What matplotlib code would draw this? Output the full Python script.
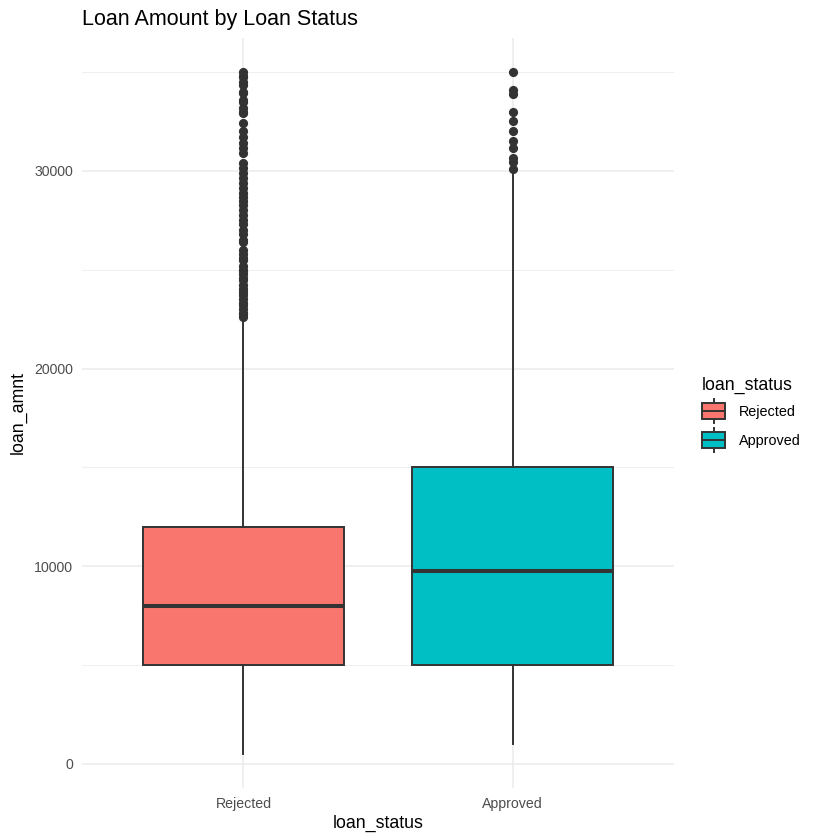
import matplotlib
matplotlib.use("Agg")
import matplotlib.pyplot as plt
from matplotlib.patches import Patch, Rectangle
from matplotlib.lines import Line2D
from matplotlib.legend_handler import HandlerBase

plt.rcParams['font.family'] = ['Liberation Sans', 'DejaVu Sans']

# ---- data ----
categories = ["Rejected", "Approved"]
colors = ["#F8766D", "#00BFC4"]
q1 = [5000, 5000]
median = [8000, 9750]
q3 = [12000, 15000]
whisker_low = [500, 1000]
whisker_high = [22500, 30000]
fliers_rejected = [35000, 34800, 34750, 34500, 34350, 34000, 33950, 33600, 33500,
                   33200, 33000, 32925, 32400, 32000, 31725, 31400, 31150, 30900,
                   30400, 30125, 29875, 29625, 29375, 29125, 28875, 28700, 28500,
                   28250, 28000, 27750, 27500, 27300, 27000, 26800, 26500, 26400,
                   26000, 25800, 25600, 25500, 25200, 25000, 24925, 24800, 24600,
                   24500, 24250, 24000, 23850, 23700, 23500, 23325, 23200, 23000,
                   22800, 22750, 22600]
fliers_approved = [35000, 34100, 33900, 33000, 32500, 32000, 31500, 31150, 30650,
                   30450, 30100]
y_major = [0, 10000, 20000, 30000]
y_minor = [5000, 15000, 25000, 35000]

W, H = 840, 840
fig = plt.figure(figsize=(8.4, 8.4), dpi=100)
px_l, px_r, px_t, px_b = 82, 674, 38, 788
ax = fig.add_axes([px_l / W, 1 - px_b / H, (px_r - px_l) / W, (px_b - px_t) / H])

stats = []
for i, name in enumerate(categories):
    stats.append(dict(label=name, q1=q1[i], med=median[i], q3=q3[i],
                      whislo=whisker_low[i], whishi=whisker_high[i],
                      fliers=[fliers_rejected, fliers_approved][i]))

positions = list(range(1, len(categories) + 1))
line_col = "#333333"
bp = ax.bxp(stats, positions=positions, widths=0.75, patch_artist=True,
            showcaps=False,
            boxprops=dict(edgecolor=line_col, linewidth=1.4),
            whiskerprops=dict(color=line_col, linewidth=1.4),
            medianprops=dict(color=line_col, linewidth=2.9, solid_capstyle='butt'),
            flierprops=dict(marker='o', markerfacecolor=line_col, markeredgecolor=line_col,
                            markersize=5.6, linestyle='none'),
            zorder=3)
for patch, c in zip(bp['boxes'], colors):
    patch.set_facecolor(c)

# expand like ggplot
lo = min(whisker_low)
hi = max(max(fliers_rejected), max(fliers_approved))
pad = (hi - lo) * 0.05
ax.set_ylim(lo - pad, hi + pad)
ax.set_xlim(0.4, len(categories) + 0.6)

ax.set_yticks(y_major)
ax.set_yticks(y_minor, minor=True)
ax.set_yticklabels([str(v) for v in y_major])
ax.set_xticks(positions)
ax.set_xticklabels(categories)
ax.grid(True, which='major', color='#EBEBEB', linewidth=1.1, zorder=0)
ax.grid(True, which='minor', axis='y', color='#EBEBEB', linewidth=0.55, zorder=0)
ax.set_axisbelow(True)
ax.tick_params(axis='both', which='both', length=0, labelsize=10.2, labelcolor='#4D4D4D')
ax.tick_params(axis='x', pad=6.5)
ax.tick_params(axis='y', pad=6.5)
for s in ax.spines.values():
    s.set_visible(False)

ax.set_xlabel("loan_status", fontsize=12.8, color='black', labelpad=3)
ax.set_ylabel("loan_amnt", fontsize=12.8, color='black', labelpad=5)

fig.text(px_l / W, 1 - 25 / H, "Loan Amount by Loan Status", fontsize=15.5,
         ha='left', va='baseline', color='black')


class BoxHandler(HandlerBase):
    def create_artists(self, legend, orig_handle, xdescent, ydescent, width, height,
                       fontsize, trans):
        x0, y0 = -xdescent, -ydescent
        fc = orig_handle.get_facecolor()
        rect = Rectangle((x0, y0 + height / 6), width, height * 2 / 3,
                         facecolor=fc, edgecolor=line_col, linewidth=1.4, transform=trans)
        med = Line2D([x0, x0 + width], [y0 + height / 2] * 2, color=line_col,
                     linewidth=1.4, transform=trans)
        w1 = Line2D([x0 + width / 2] * 2, [y0, y0 + height / 6], color=line_col,
                    linewidth=1.4, transform=trans)
        w2 = Line2D([x0 + width / 2] * 2, [y0 + height * 5 / 6, y0 + height], color=line_col,
                    linewidth=1.4, transform=trans)
        return [w1, w2, rect, med]


handles = [Patch(facecolor=c) for c in colors]
leg = fig.legend(handles, categories, title="loan_status",
                 handler_map={Patch: BoxHandler()},
                 loc='upper left', bbox_to_anchor=(702 / W, 1 - 377 / H),
                 frameon=False, fontsize=10.4, title_fontsize=12.8,
                 handlelength=1.6, handleheight=2.18, handletextpad=0.95,
                 labelspacing=0.35, borderpad=0, borderaxespad=0,
                 alignment='left')

fig.savefig("out.png", dpi=100, facecolor='white')
